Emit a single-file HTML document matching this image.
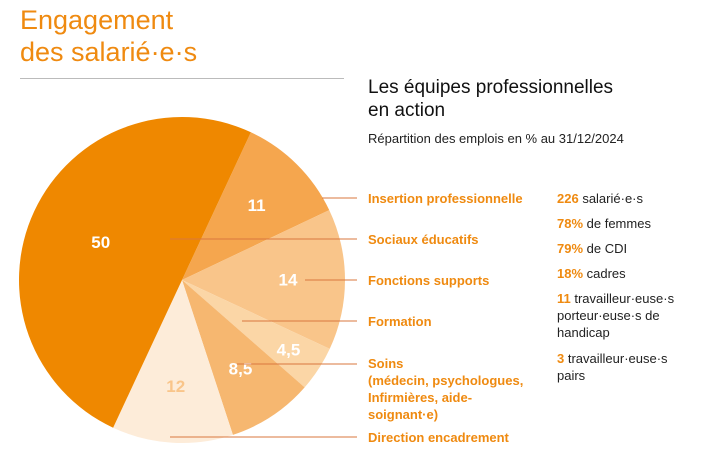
<!DOCTYPE html>
<html><head><meta charset="utf-8"><style>
body{margin:0;width:712px;height:462px;background:#fff;font-family:"Liberation Sans",sans-serif;overflow:hidden;position:relative}
.t{position:absolute;white-space:nowrap}
.lab{color:#ef8a10;font-weight:bold;font-size:13px;line-height:17px}
.st{font-size:13px;color:#222;line-height:17px}
.st b{color:#ef8a10}
</style></head><body>
<div class="t" style="left:20px;top:4px;color:#ef8a10;font-size:27px;line-height:32px">Engagement<br>des salarié·e·s</div>
<div style="position:absolute;left:20px;top:78px;width:324px;height:1px;background:#bbb"></div>
<div class="t" style="left:368px;top:76px;font-size:19px;line-height:23px;color:#111">Les équipes professionnelles<br>en action</div>
<div class="t" style="left:368px;top:131px;font-size:13px;color:#222">Répartition des emplois en % au 31/12/2024</div>
<svg id="pie" width="712" height="462" style="position:absolute;left:0;top:0"></svg>
<div class="t lab" style="left:368px;top:190px">Insertion professionnelle</div>
<div class="t lab" style="left:368px;top:231px">Sociaux éducatifs</div>
<div class="t lab" style="left:368px;top:272px">Fonctions supports</div>
<div class="t lab" style="left:368px;top:313px">Formation</div>
<div class="t lab" style="left:368px;top:355px">Soins<br>(médecin, psychologues,<br>Infirmières, aide-<br>soignant·e)</div>
<div class="t lab" style="left:368px;top:429px">Direction encadrement</div>
<div class="t st" style="left:557px;top:190px"><b>226</b> salarié·e·s</div>
<div class="t st" style="left:557px;top:215px"><b>78%</b> de femmes</div>
<div class="t st" style="left:557px;top:240px"><b>79%</b> de CDI</div>
<div class="t st" style="left:557px;top:265px"><b>18%</b> cadres</div>
<div class="t st" style="left:557px;top:290px"><b>11</b> travailleur·euse·s<br>porteur·euse·s de<br>handicap</div>
<div class="t st" style="left:557px;top:350px"><b>3</b> travailleur·euse·s<br>pairs</div>
<script>
const categories=["Insertion professionnelle","Fonctions supports","Formation","Soins","Direction encadrement","Sociaux éducatifs"];
const values=[11,14,4.5,8.5,12,50];
const labels=["11","14","4,5","8,5","12","50"];
const colors=["#f5a64e","#f9c58a","#fbd6a6","#f6b770","#fdecd9","#ef8800"];
const labelColors=["#fff","#fff","#fff","#fff","#f9c58a","#fff"];
const cx=182,cy=280,r=163,start=25;
const svg=document.getElementById('pie');
const NS='http://www.w3.org/2000/svg';
const total=values.reduce((a,b)=>a+b,0);
function pt(a,rr){const t=a*Math.PI/180;return [cx+rr*Math.sin(t),cy-rr*Math.cos(t)];}
let a=start;
values.forEach((v,i)=>{
  const sw=v/total*360,a2=a+sw;
  const p1=pt(a,r),p2=pt(a2,r);
  const p=document.createElementNS(NS,'path');
  p.setAttribute('d',`M${cx},${cy}L${p1[0]},${p1[1]}A${r},${r} 0 ${sw>180?1:0} 1 ${p2[0]},${p2[1]}Z`);
  p.setAttribute('fill',colors[i]);
  
  
  svg.appendChild(p);
  const m=a+sw/2,rr=sw>100?0.55*r:(sw<20?0.78*r:0.65*r);
  const lp=pt(m,rr);
  const t=document.createElementNS(NS,'text');
  t.setAttribute('x',lp[0]);t.setAttribute('y',lp[1]+6);
  t.setAttribute('text-anchor','middle');t.setAttribute('font-size','17');t.setAttribute('font-weight','bold');
  t.setAttribute('font-family','Liberation Sans, sans-serif');t.setAttribute('fill',labelColors[i]);
  t.textContent=labels[i];
  
  
  svg.appendChild(t);
  a=a2;
});
const leaders=[[322,198],[170,239],[305,280],[242,321],[237,364],[170,437]];
leaders.forEach((l,i)=>{
  const ln=document.createElementNS(NS,'line');
  ln.setAttribute('x1',l[0]);ln.setAttribute('x2',357);ln.setAttribute('y1',l[1]);ln.setAttribute('y2',l[1]);
  ln.setAttribute('stroke','#d9773e');ln.setAttribute('stroke-width','1');
  
  
  svg.appendChild(ln);
});
</script>
</body></html>
